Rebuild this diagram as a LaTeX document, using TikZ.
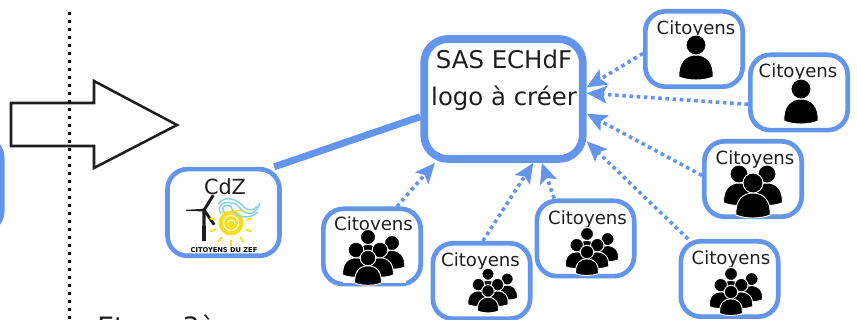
\documentclass[tikz,border=0pt]{standalone}
\usepackage{xcolor}
\usepackage{fontspec}
\setmainfont{DejaVu Sans}
\usetikzlibrary{arrows.meta}
\definecolor{boxblue}{RGB}{100,149,237}
\definecolor{wave}{RGB}{135,208,232}
\definecolor{sun}{RGB}{248,224,24}
\definecolor{ink}{RGB}{30,30,30}
\tikzset{
  citbox/.style={draw=boxblue,line width=3.5pt,rounded corners=15pt,minimum width=73pt,minimum height=56.5pt,inner sep=0pt},
  mainbox/.style={draw=boxblue,line width=5.8pt,rounded corners=18pt,minimum width=119pt,minimum height=90pt,inner sep=0pt},
  cittext/.style={anchor=base,inner sep=0pt,text=ink,font=\fontsize{13.6}{16}\selectfont},
  maintext/.style={anchor=base,inner sep=0pt,text=ink,font=\fontsize{18.3}{22}\selectfont},
  contrib/.style={draw=boxblue,line width=2.7pt,dash pattern=on 2.7pt off 2.7pt,-{Stealth[length=15pt,width=13pt,inset=3pt]}},
  personline/.style={draw=white,line width=0.7pt,fill=black}
}
% x, y of the head, scale
\newcommand{\drawperson}[3]{
  \begin{scope}[shift={(#1,#2)},scale=#3]
    \draw [personline] (-17,32) .. controls (-18,17) and (-10,10) .. (0,10) .. controls (10,10) and (18,17) .. (17,32) .. controls (8,36) and (-8,36) .. cycle;
    \draw [personline] (0,0) circle (10);
  \end{scope}
}
\newcommand{\drawcrowdthree}[3]{
  \begin{scope}[shift={(#1,#2)},scale=#3]
    \drawperson{-14}{-9}{0.9}
    \drawperson{14}{-9}{0.9}
    \drawperson{0}{0}{1}
  \end{scope}
}
\newcommand{\drawcrowdsix}[3]{
  \begin{scope}[shift={(#1,#2)},scale=#3]
    \fill [white] (-25,-28) rectangle (38,25);
    \drawperson{24}{-15}{0.75}
    \drawperson{0}{-21}{0.75}
    \drawperson{-12}{-8}{0.78}
    \drawperson{12}{-8}{0.78}
    \drawperson{0}{0}{0.78}
  \end{scope}
}
\begin{document}
\begin{tikzpicture}[x=0.75pt,y=0.75pt,yscale=-1,xscale=1]
\useasboundingbox (0,0) rectangle (857,320);
\clip (0,0) rectangle (857,320);

%Shape: big arrow
\draw [line width=1.9pt,draw=ink,line join=miter] (11,103) -- (94,103) -- (94,81) -- (177,125) -- (94,168) -- (94,146) -- (11,146) -- cycle ;
%separator
\coordinate (septop) at (69.5,12);
\coordinate (sepbot) at (69.5,320);
\draw [line width=1.9pt,dash pattern=on 1.9pt off 4.1pt] (septop) -- (sepbot) ;

%Rounded Rect: box cut by the left edge
\node [citbox,line width=3.8pt,minimum width=75pt,minimum height=70pt] (prevbox) at (-48,184.5) {};

%Rounded Rect: main boxes
\node [mainbox] (sas) at (503.5,99) {};
\node [citbox,minimum width=84pt,minimum height=65pt] (cdz) at (223.5,212.5) {};
\node [citbox] (citA) at (372,246.5) {};
\node [citbox] (citB) at (481.5,281) {};
\node [citbox] (citC) at (585.5,238.5) {};
\node [citbox] (citD) at (694,49) {};
\node [citbox] (citE) at (799,92.5) {};
\node [citbox] (citF) at (753,179) {};
\node [citbox] (citG) at (729.5,279) {};

% Text Node
\node [maintext] (sastop) at (504,69) {SAS ECHdF};
\node [maintext] (sasbot) at (504,106) {logo à créer};
\node [cittext,font=\fontsize{15.6}{18}\selectfont] (cdztext) at (225,195) {CdZ};
\node [cittext] (citAtext) at (373.5,231) {Citoyens};
\node [cittext] (citBtext) at (480.5,267) {Citoyens};
\node [cittext] (citCtext) at (587.5,225) {Citoyens};
\node [cittext] (citDtext) at (696,35) {Citoyens};
\node [cittext] (citEtext) at (798,78) {Citoyens};
\node [cittext] (citFtext) at (755,165) {Citoyens};
\node [cittext] (citGtext) at (731,265) {Citoyens};
\node [anchor=base west,inner sep=0pt,text=ink,font=\fontsize{20}{24}\selectfont] (steptext) at (97,337) {Etape 3ème};

% Icons
\drawcrowdsix{368}{258}{1}
\drawcrowdsix{488}{291}{0.8}
\drawcrowdsix{587}{252}{0.86}
\drawcrowdsix{731}{292}{0.86}
\drawperson{696}{45}{1}
\drawperson{801}{89}{1}
\drawcrowdthree{753}{183}{1}

%Logo: wind turbine
\fill [ink] (202.5,211) -- (205.5,211) -- (206,241) -- (202,241) -- cycle ;
\fill [ink] (204,208.8) -- (186,209.8) -- (186,210.8) -- (204,211.5) -- cycle ;
\fill [ink] (203,209) -- (212,194.5) -- (214.5,196) -- (205.5,210.5) -- cycle ;
\fill [ink] (205.5,209.5) -- (215.5,224) -- (213,225.5) -- (203,211) -- cycle ;
\fill [ink] (204,210) circle (2);
%Logo: sun
\foreach \ang in {20,55,90,125,160,195,-15} {
  \draw [sun,line width=1.4pt] (231,224) ++(\ang:16) -- ++(\ang:6);
}
\fill [sun] (231,223) circle (12.5);
\draw [white,line width=0.8pt] (231,223) circle (7.5);
\draw [white,line width=0.8pt] (228,223) .. controls (228,219) and (235,219) .. (235,224);
%Logo: waves
\draw [wave,line width=1.1pt] (221,214) .. controls (214,202) and (232,198) .. (240,208) .. controls (246,216) and (256,216) .. (260,203);
\draw [wave,line width=1.1pt] (218,204) .. controls (226,194) and (238,200) .. (244,207) .. controls (248,211) and (254,211) .. (257,206);
\draw [wave,line width=1.1pt] (225,213) .. controls (218,205) and (230,202) .. (232,209) .. controls (236,218) and (250,220) .. (258,212);
\draw [sun,line width=1pt] (222,212) .. controls (228,217) and (240,206) .. (246,212);
\node [anchor=base,inner sep=0pt,font=\bfseries\fontsize{5}{6}\selectfont] (logotext) at (224,252.5) {CITOYENS DU ZEF};

% Connection
\draw [boxblue,line width=5.2pt] (cdz.42) -- (sas.192) ;
\draw [contrib] (citA.58) -- (sas.223.5) ;
\draw [contrib] (citB.88) -- (sas.-65.6) ;
\draw [contrib] (citC.128.7) -- (sas.-59) ;
\draw [contrib] (citD.185) -- (sas.8) ;
\draw [contrib] (citE.193.5) -- (sas.4) ;
\draw [contrib] (citF.176.6) -- (sas.-10.5) ;
\draw [contrib] (citG.136) -- (sas.-27.8) ;

\end{tikzpicture}
\end{document}
